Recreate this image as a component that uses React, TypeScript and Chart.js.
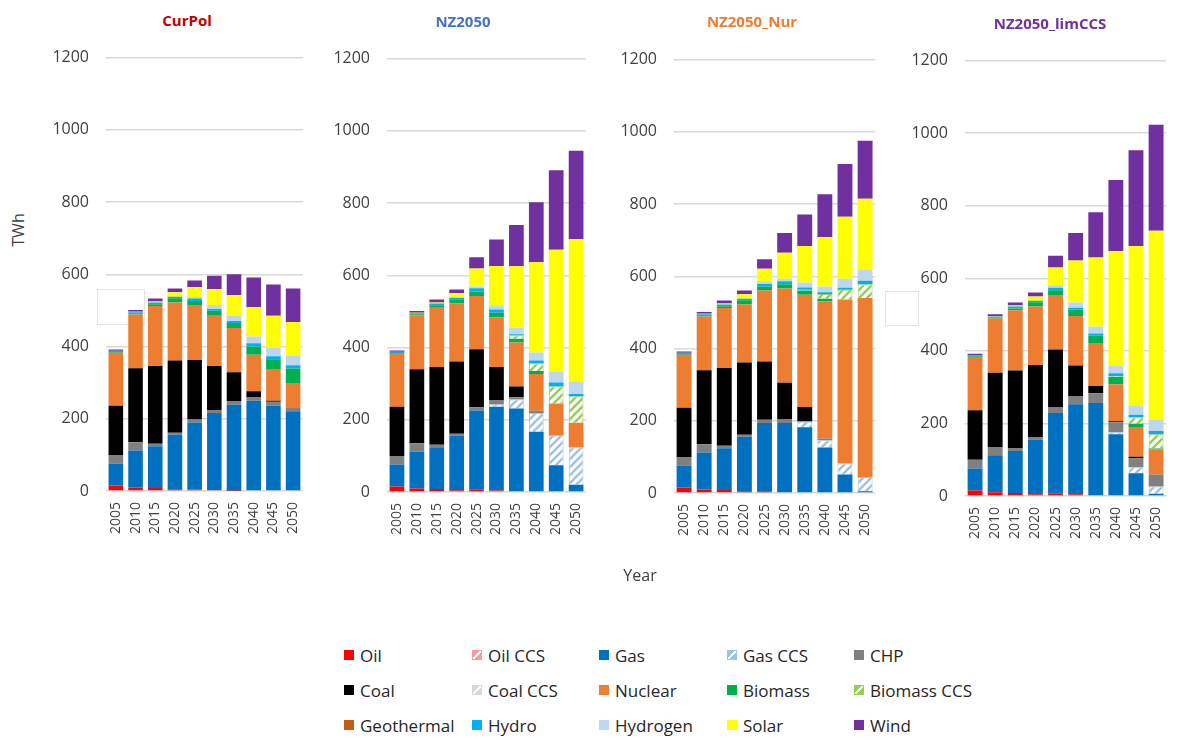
import React, { useEffect, useRef } from 'react';
import { Chart, registerables } from 'chart.js';

Chart.register(...registerables);

const FONT = '"Open Sans", "Noto Sans", sans-serif';

// ---------- categories & series ----------
const YEARS = ['2005', '2010', '2015', '2020', '2025', '2030', '2035', '2040', '2045', '2050'];
const SERIES_NAMES = ['Oil', 'Oil CCS', 'Gas', 'Gas CCS', 'CHP', 'Coal', 'Coal CCS', 'Nuclear', 'Biomass', 'Biomass CCS', 'Geothermal', 'Hydro', 'Hydrogen', 'Solar', 'Wind'];
const SERIES_COLORS = ['#FF0000', '#FF9999', '#0070C0', '#9DC3E6', '#808080', '#000000', '#D9D9D9', '#ED7D31', '#00B050', '#92D050', '#C55A11', '#00B0F0', '#BDD7EE', '#FFFF00', '#7030A0'];
const SERIES_HATCHED = [false, true, false, true, false, false, true, false, false, true, false, false, false, false, false];
const Y_TICKS_MAX = 1200;
const Y_TICKS_STEP = 200;

// ---------- CurPol ----------
const CP_OIL = [15, 10, 8, 5, 4, 3, 1, 0, 0, 0];
const CP_OIL_CCS = [0, 0, 0, 0, 0, 0, 0, 0, 0, 0];
const CP_GAS = [61, 102, 116, 151, 186, 213, 238, 250, 236, 221];
const CP_GAS_CCS = [0, 0, 0, 0, 0, 0, 0, 0, 0, 0];
const CP_CHP = [24, 23, 7, 5, 8, 8, 9, 9, 11, 9];
const CP_COAL = [136, 205, 215, 200, 165, 122, 81, 17, 3, 0];
const CP_COAL_CCS = [0, 0, 0, 0, 0, 0, 0, 0, 0, 0];
const CP_NUCLEAR = [147, 149, 166, 161, 152, 139, 122, 101, 86, 69];
const CP_BIOMASS = [2, 3, 5, 12, 11, 14, 14, 23, 29, 40];
const CP_BIOMASS_CCS = [0, 0, 0, 0, 0, 0, 0, 0, 0, 0];
const CP_GEOTHERMAL = [0, 0, 0, 0, 0, 0, 0, 0, 0, 0];
const CP_HYDRO = [3, 3, 5, 4, 7, 5, 6, 9, 8, 9];
const CP_HYDROGEN = [0, 0, 0, 0, 4, 11, 14, 19, 23, 27];
const CP_SOLAR = [0, 1, 3, 12, 28, 44, 58, 81, 89, 93];
const CP_WIND = [4, 5, 8, 11, 18, 37, 57, 82, 87, 93];

// ---------- NZ2050 ----------
const NZ_OIL = [15, 10, 8, 5, 6, 4, 2, 0, 0, 0];
const NZ_OIL_CCS = [0, 0, 0, 0, 0, 0, 0, 0, 0, 0];
const NZ_GAS = [61, 102, 116, 151, 220, 232, 229, 167, 74, 20];
const NZ_GAS_CCS = [0, 0, 0, 0, 0, 6, 25, 52, 84, 104];
const NZ_CHP = [24, 23, 7, 5, 9, 11, 6, 6, 0, 0];
const NZ_COAL = [136, 205, 215, 200, 160, 93, 30, 0, 0, 0];
const NZ_COAL_CCS = [0, 0, 0, 0, 0, 0, 0, 0, 0, 0];
const NZ_NUCLEAR = [147, 149, 166, 161, 148, 137, 122, 102, 87, 68];
const NZ_BIOMASS = [2, 3, 5, 12, 12, 13, 10, 8, 0, 0];
const NZ_BIOMASS_CCS = [0, 0, 0, 0, 0, 0, 9, 21, 47, 73];
const NZ_GEOTHERMAL = [0, 0, 0, 0, 0, 0, 0, 0, 0, 0];
const NZ_HYDRO = [3, 3, 5, 4, 9, 9, 4, 8, 11, 6];
const NZ_HYDROGEN = [0, 0, 0, 0, 5, 12, 18, 22, 30, 35];
const NZ_SOLAR = [0, 1, 3, 12, 50, 109, 170, 250, 338, 394];
const NZ_WIND = [4, 5, 8, 11, 31, 73, 114, 166, 220, 245];

// ---------- NZ2050_Nur ----------
const NUR_OIL = [15, 10, 8, 5, 5, 2, 0, 0, 0, 0];
const NUR_OIL_CCS = [0, 0, 0, 0, 0, 0, 0, 0, 0, 0];
const NUR_GAS = [61, 102, 116, 151, 189, 192, 182, 126, 51, 5];
const NUR_GAS_CCS = [0, 0, 0, 0, 0, 0, 15, 20, 31, 39];
const NUR_CHP = [24, 23, 7, 5, 9, 11, 2, 5, 0, 0];
const NUR_COAL = [136, 205, 215, 200, 161, 100, 39, 0, 0, 0];
const NUR_COAL_CCS = [0, 0, 0, 0, 0, 0, 0, 0, 0, 0];
const NUR_NUCLEAR = [147, 149, 166, 161, 197, 261, 311, 380, 454, 496];
const NUR_BIOMASS = [2, 3, 5, 12, 11, 12, 12, 7, 0, 0];
const NUR_BIOMASS_CCS = [0, 0, 0, 0, 0, 0, 2, 13, 27, 38];
const NUR_GEOTHERMAL = [0, 0, 0, 0, 0, 0, 0, 0, 0, 0];
const NUR_HYDRO = [3, 3, 5, 4, 7, 8, 6, 5, 5, 10];
const NUR_HYDROGEN = [0, 0, 0, 0, 7, 7, 14, 16, 25, 31];
const NUR_SOLAR = [0, 1, 3, 12, 35, 72, 101, 137, 172, 196];
const NUR_WIND = [4, 5, 8, 11, 26, 55, 87, 118, 146, 160];

// ---------- NZ2050_limCCS ----------
const LIM_OIL = [15, 10, 8, 5, 6, 5, 0, 0, 0, 0];
const LIM_OIL_CCS = [0, 0, 0, 0, 0, 0, 0, 0, 0, 0];
const LIM_GAS = [61, 102, 116, 151, 223, 248, 256, 170, 63, 6];
const LIM_GAS_CCS = [0, 0, 0, 0, 0, 0, 0, 6, 16, 20];
const LIM_CHP = [24, 23, 7, 5, 15, 21, 27, 27, 25, 33];
const LIM_COAL = [136, 205, 215, 200, 160, 86, 20, 3, 4, 0];
const LIM_COAL_CCS = [0, 0, 0, 0, 0, 0, 0, 0, 0, 0];
const LIM_NUCLEAR = [147, 149, 166, 161, 150, 136, 119, 102, 82, 70];
const LIM_BIOMASS = [2, 3, 5, 12, 13, 17, 20, 21, 9, 2];
const LIM_BIOMASS_CCS = [0, 0, 0, 0, 0, 0, 0, 2, 18, 39];
const LIM_GEOTHERMAL = [0, 0, 0, 0, 0, 0, 0, 0, 0, 0];
const LIM_HYDRO = [3, 3, 5, 4, 7, 6, 6, 7, 7, 9];
const LIM_HYDROGEN = [0, 0, 0, 0, 7, 14, 19, 22, 25, 32];
const LIM_SOLAR = [0, 1, 3, 12, 49, 116, 190, 315, 440, 520];
const LIM_WIND = [4, 5, 8, 11, 32, 76, 125, 196, 264, 292];

const CURPOL_SERIES = [CP_OIL, CP_OIL_CCS, CP_GAS, CP_GAS_CCS, CP_CHP, CP_COAL, CP_COAL_CCS, CP_NUCLEAR, CP_BIOMASS, CP_BIOMASS_CCS, CP_GEOTHERMAL, CP_HYDRO, CP_HYDROGEN, CP_SOLAR, CP_WIND];
const NZ_SERIES = [NZ_OIL, NZ_OIL_CCS, NZ_GAS, NZ_GAS_CCS, NZ_CHP, NZ_COAL, NZ_COAL_CCS, NZ_NUCLEAR, NZ_BIOMASS, NZ_BIOMASS_CCS, NZ_GEOTHERMAL, NZ_HYDRO, NZ_HYDROGEN, NZ_SOLAR, NZ_WIND];
const NUR_SERIES = [NUR_OIL, NUR_OIL_CCS, NUR_GAS, NUR_GAS_CCS, NUR_CHP, NUR_COAL, NUR_COAL_CCS, NUR_NUCLEAR, NUR_BIOMASS, NUR_BIOMASS_CCS, NUR_GEOTHERMAL, NUR_HYDRO, NUR_HYDROGEN, NUR_SOLAR, NUR_WIND];
const LIM_SERIES = [LIM_OIL, LIM_OIL_CCS, LIM_GAS, LIM_GAS_CCS, LIM_CHP, LIM_COAL, LIM_COAL_CCS, LIM_NUCLEAR, LIM_BIOMASS, LIM_BIOMASS_CCS, LIM_GEOTHERMAL, LIM_HYDRO, LIM_HYDROGEN, LIM_SOLAR, LIM_WIND];

// ---------- layout ----------
const Y_AXIS_W = 70;
const X_AXIS_H = 70;
const PAD_TOP = 20;
const PAD_RIGHT = 2;

type PanelDef = {
  title: string;
  titleColor: string;
  titleX: number;
  titleY: number;
  series: number[][];
  plotLeft: number;
  plotRight: number;
  plotTop: number;
  plotBottom: number;
};

const PANELS: PanelDef[] = [
  { title: 'CurPol', titleColor: '#C00000', titleX: 187, titleY: 20, series: CURPOL_SERIES, plotLeft: 106, plotRight: 319, plotTop: 51, plotBottom: 491 },
  { title: 'NZ2050', titleColor: '#4472C4', titleX: 463, titleY: 21, series: NZ_SERIES, plotLeft: 387, plotRight: 602, plotTop: 52, plotBottom: 492 },
  { title: 'NZ2050_Nur', titleColor: '#ED7D31', titleX: 752, titleY: 21, series: NUR_SERIES, plotLeft: 674, plotRight: 891, plotTop: 53, plotBottom: 493 },
  { title: 'NZ2050_limCCS', titleColor: '#7030A0', titleX: 1050, titleY: 23, series: LIM_SERIES, plotLeft: 965, plotRight: 1182, plotTop: 54, plotBottom: 496 },
];

const LEGEND_COLS = [344, 472, 599, 727, 854];
const LEGEND_ROWS = [655, 690, 725];

function makeHatch(color: string): CanvasPattern | string {
  const s = 8;
  const c = document.createElement('canvas');
  c.width = s;
  c.height = s;
  const g = c.getContext('2d');
  if (!g) return color;
  g.fillStyle = '#ffffff';
  g.fillRect(0, 0, s, s);
  g.strokeStyle = color;
  g.lineWidth = 2.4;
  g.beginPath();
  g.moveTo(-1, s + 1);
  g.lineTo(s + 1, -1);
  g.moveTo(-s / 2 - 1, s / 2 + 1);
  g.lineTo(s / 2 + 1, -s / 2 - 1);
  g.moveTo(s / 2 - 1, s * 1.5 + 1);
  g.lineTo(s * 1.5 + 1, s / 2 - 1);
  g.stroke();
  return g.createPattern(c, 'repeat') || color;
}

function Panel({ def }: { def: PanelDef }) {
  const ref = useRef<HTMLCanvasElement>(null);
  const width = Y_AXIS_W + (def.plotRight - def.plotLeft) + PAD_RIGHT;
  const height = PAD_TOP + (def.plotBottom - def.plotTop) + X_AXIS_H;
  const left = def.plotLeft - Y_AXIS_W;
  const top = def.plotTop - PAD_TOP;

  useEffect(() => {
    if (!ref.current) return;
    const datasets = SERIES_NAMES.map((name, i) => {
      const hatched = SERIES_HATCHED[i];
      return {
        label: name,
        data: def.series[i].map((v) => (v === 0 ? null : v)),
        backgroundColor: hatched ? makeHatch(SERIES_COLORS[i]) : SERIES_COLORS[i],
        borderColor: SERIES_COLORS[i],
        borderWidth: hatched ? 1 : 0,
        categoryPercentage: 1,
        barPercentage: 0.74,
      };
    });
    const chart = new Chart(ref.current, {
      type: 'bar',
      data: { labels: YEARS, datasets: datasets as any },
      options: {
        animation: false,
        responsive: false,
        maintainAspectRatio: false,
        devicePixelRatio: 1,
        layout: { padding: { top: PAD_TOP, right: PAD_RIGHT, left: 0, bottom: 0 } },
        plugins: {
          legend: { display: false },
          tooltip: { enabled: false },
          title: { display: false },
        },
        scales: {
          x: {
            stacked: true,
            grid: { display: false, drawTicks: false },
            border: { display: false },
            ticks: {
              autoSkip: false,
              maxRotation: 90,
              minRotation: 90,
              padding: 11,
              color: '#404040',
              font: { family: FONT, size: 14 },
            },
            afterFit: (s: any) => {
              s.height = X_AXIS_H;
            },
          },
          y: {
            stacked: true,
            min: 0,
            max: Y_TICKS_MAX,
            grid: { color: '#D9D9D9', lineWidth: 1.5, drawTicks: false },
            border: { display: false },
            ticks: {
              stepSize: Y_TICKS_STEP,
              padding: 17,
              color: '#404040',
              font: { family: FONT, size: 16 },
              callback: (v: any) => String(v),
            },
            afterFit: (s: any) => {
              s.width = Y_AXIS_W;
            },
          },
        },
      },
    });
    return () => chart.destroy();
  }, [def]);

  return (
    <>
      <canvas
        ref={ref}
        width={width}
        height={height}
        style={{ position: 'absolute', left, top, width, height }}
      />
      <div
        style={{
          position: 'absolute',
          left: def.titleX - 100,
          width: 200,
          top: def.titleY - 11,
          height: 22,
          lineHeight: '22px',
          textAlign: 'center',
          fontFamily: FONT,
          fontWeight: 700,
          fontSize: 15,
          color: def.titleColor,
        }}
      >
        {def.title}
      </div>
    </>
  );
}

function Legend() {
  return (
    <>
      {SERIES_NAMES.map((name, i) => {
        const col = i % 5;
        const row = Math.floor(i / 5);
        const x = LEGEND_COLS[col];
        const y = LEGEND_ROWS[row];
        const color = SERIES_COLORS[i];
        const hatched = SERIES_HATCHED[i];
        const swatch: React.CSSProperties = hatched
          ? {
              background: `linear-gradient(135deg, ${color} 0%, ${color} 40%, #ffffff 40%, #ffffff 60%, ${color} 60%, ${color} 100%)`,
              border: `1px solid ${color}`,
              width: 8,
              height: 8,
            }
          : { background: color, width: 10, height: 10 };
        return (
          <div
            key={name}
            style={{
              position: 'absolute',
              left: x,
              top: y - 12,
              height: 24,
              display: 'flex',
              alignItems: 'center',
              fontFamily: FONT,
              fontSize: 17,
              color: '#262626',
              whiteSpace: 'nowrap',
            }}
          >
            <div style={{ ...swatch, marginRight: 6, flex: 'none' }} />
            <span>{name}</span>
          </div>
        );
      })}
    </>
  );
}

export default function App() {
  return (
    <div
      style={{
        position: 'absolute',
        left: 0,
        top: 0,
        width: 1181,
        height: 740,
        overflow: 'hidden',
        background: '#ffffff',
      }}
    >
      {/* faint framed boxes visible behind the plots in the original */}
      <div style={{ position: 'absolute', left: 97, top: 289, width: 46, height: 34, border: '1px solid #E3E3E3' }} />
      <div style={{ position: 'absolute', left: 885, top: 291, width: 32, height: 33, border: '1px solid #E3E3E3' }} />
      {PANELS.map((p) => (
        <Panel key={p.title} def={p} />
      ))}
      <div
        style={{
          position: 'absolute',
          left: 18 - 30,
          top: 230 - 11,
          width: 60,
          height: 22,
          lineHeight: '22px',
          textAlign: 'center',
          transform: 'rotate(-90deg)',
          fontFamily: FONT,
          fontSize: 16,
          color: '#404040',
        }}
      >
        TWh
      </div>
      <div
        style={{
          position: 'absolute',
          left: 640 - 40,
          top: 575 - 11,
          width: 80,
          height: 22,
          lineHeight: '22px',
          textAlign: 'center',
          fontFamily: FONT,
          fontSize: 16,
          color: '#404040',
        }}
      >
        Year
      </div>
      <Legend />
    </div>
  );
}
